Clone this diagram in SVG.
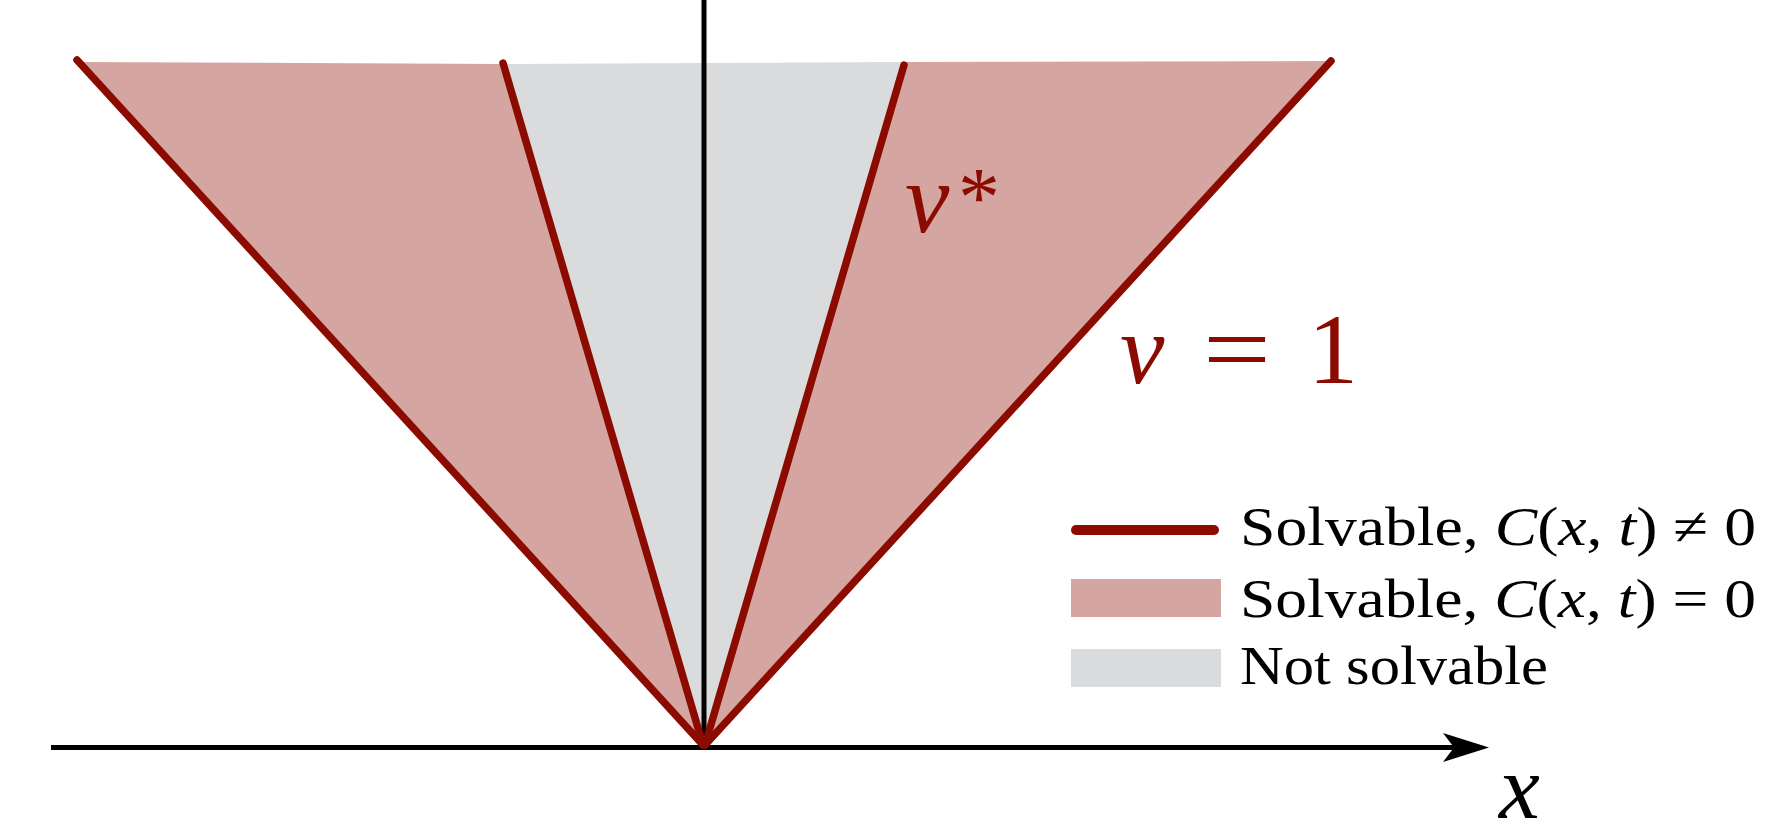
<svg xmlns="http://www.w3.org/2000/svg" width="1776" height="838" viewBox="0 0 1776 838">
  <defs>
    <style>
      .pink { fill: #d5a5a2; }
      .gray { fill: #dadbdd; }
      .red { stroke: #8c0b00; stroke-width: 7.5; stroke-linecap: round; fill: none; }
      .axis { stroke: #000; stroke-width: 5; fill: none; }
      .math { font-family: "Liberation Serif", "DejaVu Serif", serif; font-style: italic; }
      .rm { font-family: "Liberation Serif", "DejaVu Serif", serif; font-style: normal; }
      .lab { fill: #8c0b00; }
      .leg { font-family: "Liberation Serif", "DejaVu Serif", serif; font-size: 54px; fill: #000; }
    </style>
  </defs>
  <rect width="1776" height="838" fill="#fff"/>
  <g id="regions">
    <polygon class="pink" points="77,62 503,64 704,746"/>
    <polygon class="gray" points="503,64 704,63 903,62 704,746"/>
    <polygon class="pink" points="903,62 1331,61 704,746"/>
  </g>
  <g id="axes">
    <line class="axis" x1="704" y1="0" x2="704" y2="747"/>
    <line class="axis" x1="51" y1="747.5" x2="1456" y2="747.5"/>
    <polygon points="1489,747.5 1443,733 1454,747.5 1443,762" fill="#000"/>
  </g>
  <g id="connectors">
    <line class="red" x1="77" y1="60" x2="703" y2="745"/>
    <line class="red" x1="503" y1="63" x2="703" y2="745"/>
    <line class="red" x1="904" y1="65" x2="705" y2="745"/>
    <line class="red" x1="1331" y1="61" x2="705" y2="745"/>
  </g>
  <g id="label-vstar">
    <text class="math lab" x="905" y="232" font-size="100">v</text>
    <text class="rm lab" x="958" y="226" font-size="84">*</text>
  </g>
  <g id="label-v1">
    <text class="math lab" x="1120" y="383" font-size="100">v</text>
    <text class="rm lab" x="1203" y="383" font-size="100" textLength="68" lengthAdjust="spacingAndGlyphs">=</text>
    <text class="rm lab" x="1308" y="383" font-size="100">1</text>
  </g>
  <g id="label-x">
    <text class="math" x="1499" y="818" font-size="92">x</text>
  </g>
  <g id="legend">
    <line x1="1076" y1="530" x2="1214" y2="530" stroke="#8c0b00" stroke-width="10" stroke-linecap="round"/>
    <text class="leg" x="1240" y="545" textLength="516" lengthAdjust="spacingAndGlyphs">Solvable, <tspan class="math">C</tspan>(<tspan class="math">x</tspan>, <tspan class="math">t</tspan>) ≠ 0</text>
    <rect class="pink" x="1071" y="579" width="150" height="38"/>
    <text class="leg" x="1240" y="617" textLength="516" lengthAdjust="spacingAndGlyphs">Solvable, <tspan class="math">C</tspan>(<tspan class="math">x</tspan>, <tspan class="math">t</tspan>) = 0</text>
    <rect class="gray" x="1071" y="649" width="150" height="38"/>
    <text class="leg" x="1240" y="684" textLength="308" lengthAdjust="spacingAndGlyphs">Not solvable</text>
  </g>
</svg>
